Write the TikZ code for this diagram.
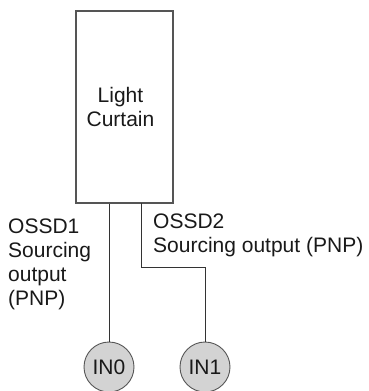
\documentclass[tikz,border=0pt]{standalone}
\usepackage{fontspec}
\setmainfont{Liberation Sans}
\usepackage{tikz}
\usetikzlibrary{positioning,calc}
\definecolor{wireGray}{HTML}{333333}
\definecolor{boxGray}{HTML}{555555}
\definecolor{pinFill}{HTML}{D3D3D3}

\begin{document}
\begin{tikzpicture}[
    x=1bp, y=-1bp,
    every node/.style={font=\fontsize{21bp}{24bp}\selectfont, text=black!90},
    deviceBox/.style={rectangle, draw=boxGray, line width=1.2bp, minimum width=97bp, minimum height=192bp, align=center, inner sep=0pt},
    pinNode/.style={circle, draw=boxGray, fill=pinFill, line width=0.9bp, minimum size=50bp, inner sep=0pt},
    wireLine/.style={draw=wireGray, line width=0.9bp},
    outLabel/.style={anchor=north west, align=left, inner sep=0pt}
]
    \useasboundingbox (0,0) rectangle (369,391);

    \node[deviceBox] (curtain) at (124.5, 107) {\hspace*{-8bp}Light\\\hspace*{-8bp}Curtain};

    \node[pinNode] (in0) at (109, 367) {IN0};
    \node[pinNode] (in1) at (205, 367) {IN1};

    \node[outLabel] (lbl1) at (8, 219) {OSSD1\\Sourcing\\output\\(PNP)};
    \node[outLabel] (lbl2) at (153, 214) {OSSD2\\Sourcing output (PNP)};

    \coordinate (ossd2) at (141, 203);
    \coordinate (bend) at (141, 267);
    \draw[wireLine] (in0 |- curtain.south) -- (in0.north);
    \draw[wireLine] (ossd2) -- (bend) -| (in1.north);
\end{tikzpicture}
\end{document}
